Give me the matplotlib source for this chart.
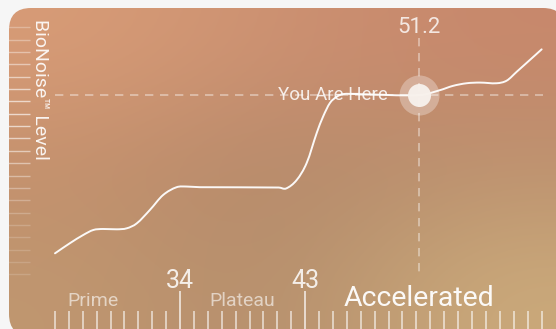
import numpy as np
import matplotlib
matplotlib.use("Agg")
import matplotlib.pyplot as plt
from matplotlib.patches import FancyBboxPatch, PathPatch
from matplotlib.path import Path
from matplotlib.transforms import IdentityTransform
from matplotlib.colors import to_rgb

# ---------------- data ----------------
age_x = [25.0, 26.08, 27.04, 27.76, 28.45, 29.44, 30.16, 30.88, 31.83, 32.77,
         33.75, 34.47, 35.43, 41.10, 41.62, 42.39, 43.11, 43.83, 44.28, 44.78,
         45.27, 45.72, 46.71, 51.26, 52.70, 53.63, 54.62, 55.58, 56.78, 57.50,
         58.22, 59.17, 60.01]
bionoise = [23.0, 26.1, 28.6, 30.1, 30.4, 30.3, 30.6, 32.1, 36.2, 40.7,
            43.1, 43.3, 43.1, 43.0, 42.7, 45.3, 50.5, 59.6, 64.5, 68.7,
            70.6, 71.4, 71.4, 71.1, 72.6, 73.9, 74.7, 74.9, 74.7, 75.5,
            78.2, 81.8, 85.0]
current_x = 51.2
current_y = 71.1
current_label = "51.2"
phase_bounds = [34, 43]
phase_names = ["Prime", "Plateau", "Accelerated"]
phase_centers = [27.7, 38.5, 51.2]
ruler_min, ruler_max = 25, 60

FONT = ["Roboto", "DejaVu Sans"]

W, H = 556, 329
fig = plt.figure(figsize=(W / 100, H / 100), dpi=100)
fig.patch.set_facecolor("#f6f6f6")
ax = fig.add_axes([0, 0, 1, 1])
x_lo = 25 - 55 / 13.9
x_hi = 25 + (W - 55) / 13.9
ax.set_xlim(x_lo, x_hi)
ax.set_ylim(0, 100)
ax.axis("off")
ax.patch.set_alpha(0)

# ---------------- card with gradient ----------------
grid = np.array([
    [to_rgb("#d89c77"), to_rgb("#cc9172"), to_rgb("#c8886c")],
    [to_rgb("#c4906d"), to_rgb("#b3886a"), to_rgb("#bb916f")],
    [to_rgb("#c09770"), to_rgb("#b48d6c"), to_rgb("#cbaa7b")],
])
card = FancyBboxPatch((9, -7), 556, 328,
                      boxstyle="round,pad=0,rounding_size=22",
                      transform=IdentityTransform(), facecolor="none",
                      edgecolor="none")
fig.add_artist(card)
im = ax.imshow(grid, extent=[x_lo, x_hi, 0, 100], aspect="auto",
               interpolation="bicubic", zorder=0)
im.set_clip_path(card)

# ---------------- left ruler ----------------
ruler_y = np.linspace(91.7, 16.6, 21)
for yv in ruler_y:
    a = 0.5 * np.exp(-((yv - 66) / 22) ** 2) + 0.15
    ln, = ax.plot([x_lo, 25 - 25 / 13.9], [yv, yv], color="white",
                  lw=1.0, alpha=a, solid_capstyle="butt", zorder=2)
    ln.set_clip_path(card)

# ---------------- bottom ruler ----------------
for t in range(ruler_min, ruler_max + 1):
    if t in phase_bounds:
        top = (329 - 291) / 3.29
        a = 0.85
    else:
        top = (329 - 311) / 3.29
        a = 0.72
    ax.plot([t, t], [-2, top], color="white", lw=1.1, alpha=a,
            solid_capstyle="butt", zorder=2)

for b in phase_bounds:
    ax.text(b, (329 - 281) / 3.29, str(b), ha="center", va="center",
            fontsize=18, color="white", alpha=0.85, family=FONT,
            fontweight="normal", zorder=3)

sizes = [14, 14, 20.5]
alphas = [0.6, 0.6, 0.95]
for name, cx, s, a in zip(phase_names, phase_centers, sizes, alphas):
    ax.text(cx, (329 - 306) / 3.29, name, ha="center", va="baseline",
            fontsize=s, color="white", alpha=a, family=FONT,
            fontweight="normal", zorder=3)

# ---------------- crosshair ----------------
ax.plot([25, 60.1], [current_y, current_y], color="white", lw=1.2,
        alpha=0.45, dashes=(5, 4), zorder=2)
ax.plot([current_x, current_x], [(329 - 38) / 3.29, (329 - 272) / 3.29],
        color="white", lw=1.2, alpha=0.45, dashes=(5, 4), zorder=2)

# ---------------- curve (smooth Hermite path through the data points) -------
px = np.asarray(age_x)
py = np.asarray(bionoise)
n = len(px)
m = np.zeros(n)
for i in range(n):
    lo, hi = max(i - 1, 0), min(i + 1, n - 1)
    m[i] = (py[hi] - py[lo]) / (px[hi] - px[lo])
verts = [(px[0], py[0])]
codes = [Path.MOVETO]
for i in range(n - 1):
    h = px[i + 1] - px[i]
    verts += [(px[i] + h / 3, py[i] + m[i] * h / 3),
              (px[i + 1] - h / 3, py[i + 1] - m[i + 1] * h / 3),
              (px[i + 1], py[i + 1])]
    codes += [Path.CURVE4] * 3
ax.add_patch(PathPatch(Path(verts, codes), facecolor="none",
                       edgecolor="white", lw=1.4, alpha=0.95,
                       capstyle="round", joinstyle="round", zorder=4))

# ---------------- marker ----------------
ax.scatter([current_x], [current_y], s=830, color="white", alpha=0.3,
           linewidths=0, zorder=5)
ax.scatter([current_x], [current_y], s=275, color="#f7f1ec", alpha=0.97,
           linewidths=0, zorder=6)

ax.text(current_x, (329 - 27.5) / 3.29, current_label, ha="center",
        va="center", fontsize=16, color="white", alpha=0.8, family=FONT,
        fontweight="normal", zorder=3)
ax.text(25 + (388 - 55) / 13.9, current_y, "You Are Here", ha="right",
        va="center", fontsize=13.5, color="white", alpha=0.85, family=FONT,
        fontweight="normal", zorder=3)

# ---------------- y label ----------------
ax.text(25 - 15 / 13.9, (329 - 89) / 3.29, "BioNoise\u2122 Level",
        rotation=-90, ha="center", va="center", fontsize=14,
        color="white", alpha=0.9, family=FONT, fontweight="normal", zorder=3)

fig.savefig("out.png", dpi=100, facecolor=fig.get_facecolor())
